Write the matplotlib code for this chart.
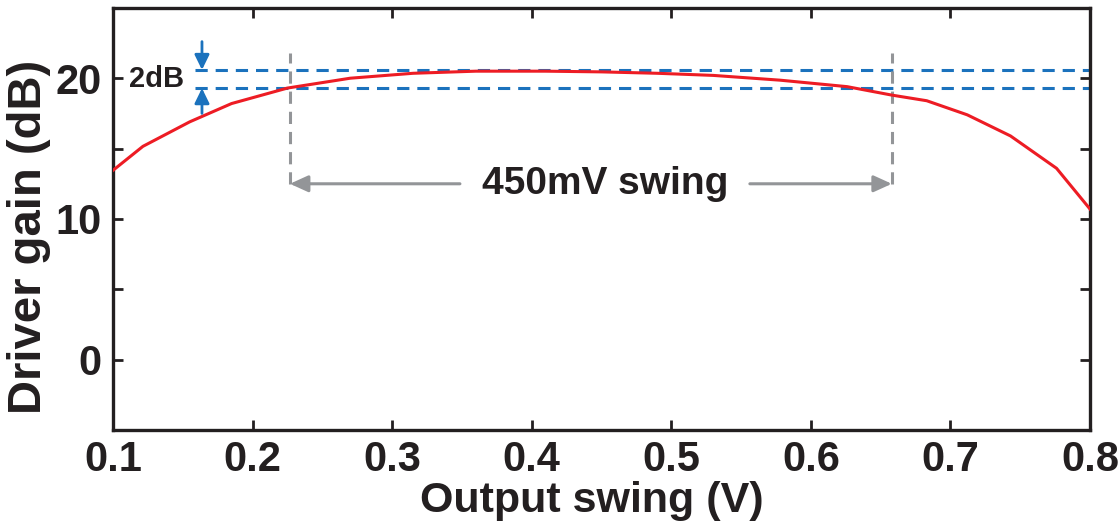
import matplotlib
matplotlib.use('Agg')
import matplotlib.pyplot as plt
import numpy as np

plt.rcParams['font.family'] = ['Liberation Sans', 'DejaVu Sans']
plt.rcParams['font.weight'] = 'bold'

# data
swing = [0.1, 0.1215, 0.155, 0.185, 0.225, 0.27, 0.315, 0.36, 0.41, 0.45,
         0.49, 0.53, 0.578, 0.626, 0.658, 0.683, 0.712, 0.743, 0.776, 0.8]
gain = [13.45, 15.16, 16.9, 18.2, 19.3, 20.0, 20.35, 20.5, 20.5, 20.45,
        20.35, 20.2, 19.86, 19.4, 18.8, 18.4, 17.4, 15.9, 13.6, 10.7]
band_levels = [20.59, 19.29]
swing_edges = [0.2268, 0.658]
xticks = [0.1, 0.2, 0.3, 0.4, 0.5, 0.6, 0.7, 0.8]
yticks = [-5, 0, 5, 10, 15, 20, 25]
ytick_labels = ['', '0', '', '10', '', '20', '']

red = '#ed1c24'
blue = '#1b72bd'
gray = '#939598'
black = '#231f20'

fig = plt.figure(figsize=(11.18, 5.22), dpi=100)
ax = fig.add_axes([0.101, 0.176, 0.874, 0.809])

ax.plot(swing, gain, color=red, lw=2.2, zorder=3)

# 2dB band
for lvl in band_levels:
  ax.plot([0.159, 0.8], [lvl, lvl], color=blue, lw=2.2, dashes=(4, 2.6), zorder=2)

ax.annotate('', xy=(0.1638, band_levels[0]), xytext=(0.1638, 22.6),
            arrowprops=dict(arrowstyle='-|>,head_length=0.45,head_width=0.22',
                            color=blue, lw=2, shrinkA=0, shrinkB=0, mutation_scale=20))
ax.annotate('', xy=(0.1638, band_levels[1]), xytext=(0.1638, 17.5),
            arrowprops=dict(arrowstyle='-|>,head_length=0.45,head_width=0.22',
                            color=blue, lw=2, shrinkA=0, shrinkB=0, mutation_scale=20))
ax.text(0.1315, 19.94, '2dB', ha='center', va='center', fontsize=21,
        fontweight='bold', color=black)

# swing window
for xe in swing_edges:
  ax.plot([xe, xe], [12.5, 21.8], color=gray, lw=2.2, dashes=(4, 2.6), zorder=2)

ax.annotate('', xy=(swing_edges[0], 12.5), xytext=(0.3486, 12.5),
            arrowprops=dict(arrowstyle='-|>,head_length=0.55,head_width=0.25',
                            color=gray, lw=2.2, shrinkA=0, shrinkB=0, mutation_scale=20))
ax.annotate('', xy=(swing_edges[1], 12.5), xytext=(0.5563, 12.5),
            arrowprops=dict(arrowstyle='-|>,head_length=0.55,head_width=0.25',
                            color=gray, lw=2.2, shrinkA=0, shrinkB=0, mutation_scale=20))
ax.text(0.4525, 12.5, '450mV swing', ha='center', va='center', fontsize=28,
        fontweight='bold', color=black)

ax.set_xlim(0.1, 0.8)
ax.set_ylim(-5, 25)
ax.set_xticks(xticks)
ax.set_xticklabels([f'{v:.1f}' for v in xticks])
ax.set_yticks(yticks)
ax.set_yticklabels(ytick_labels)
ax.tick_params(direction='in', length=7, width=2, top=True, right=True,
               labelsize=30, colors=black, pad=8)
ax.tick_params(axis='x', pad=7)
for lab in ax.get_xticklabels() + ax.get_yticklabels():
  lab.set_fontweight('bold')
for sp in ax.spines.values():
  sp.set_linewidth(2.4)
  sp.set_color(black)

ax.set_xlabel('Output swing (V)', fontsize=31, fontweight='bold', color=black)
ax.set_ylabel('Driver gain (dB)', fontsize=34, fontweight='bold', color=black)
ax.xaxis.set_label_coords(0.49, -0.12)
ax.yaxis.set_label_coords(-0.063, 0.457)

fig.savefig('out.png', dpi=100)
